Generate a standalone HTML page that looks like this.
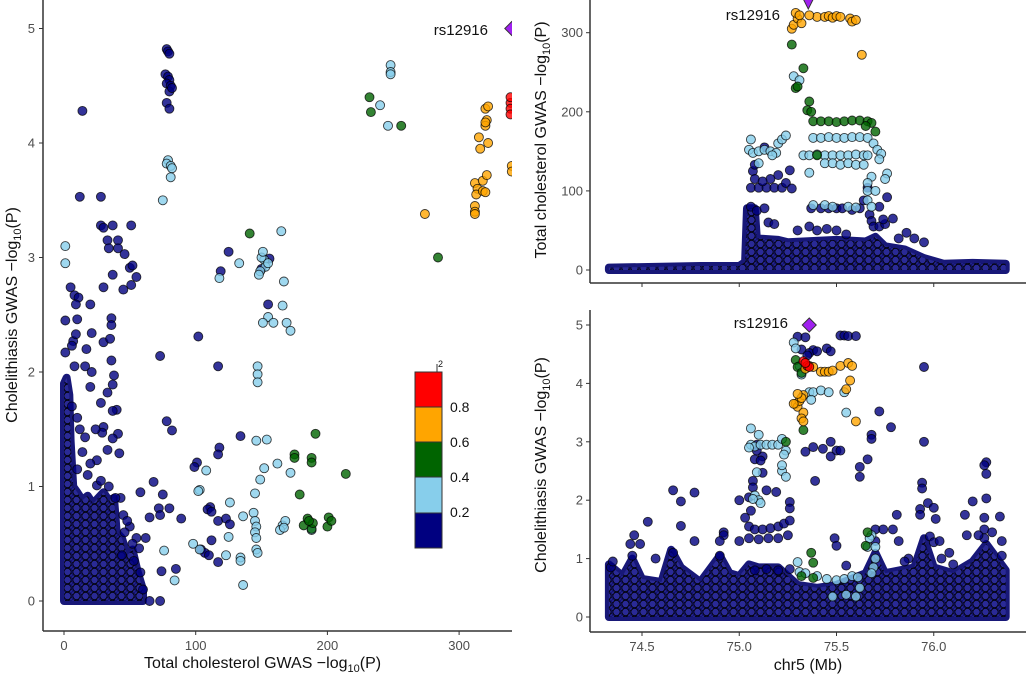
<!DOCTYPE html>
<html><head><meta charset="utf-8"><style>
html,body{margin:0;padding:0;background:#fff;}
svg{display:block;font-family:"Liberation Sans",sans-serif;}
.tk{fill:#4d4d4d;font-size:13px;}
.ttl{fill:#111;font-size:16px;}
</style></head><body>
<svg id="chart" width="1026" height="678" viewBox="0 0 1026 678">
<defs>
<clipPath id="cL"><rect x="44" y="0" width="468" height="630"/></clipPath>
<clipPath id="cT"><rect x="591" y="0" width="435" height="282"/></clipPath>
<clipPath id="cB"><rect x="591" y="300" width="435" height="331"/></clipPath>
<pattern id="dots" width="9" height="8" patternUnits="userSpaceOnUse">
<rect width="9" height="8" fill="#141470"/>
<circle cx="4.5" cy="4" r="3.6" fill="#2a2a96" stroke="#000" stroke-width="0.8"/>
<circle cx="0" cy="0" r="2.5" fill="#22228a" stroke="#000" stroke-width="0.6"/>
<circle cx="9" cy="8" r="2.5" fill="#22228a" stroke="#000" stroke-width="0.6"/>
</pattern>
</defs>
<g id="gL" clip-path="url(#cL)"></g>
<g id="gT" clip-path="url(#cT)"></g>
<g id="gB" clip-path="url(#cB)"></g>
<g id="axes"></g>
<g>
<rect x="415" y="372" width="27" height="35" fill="#ff0000" stroke="#333"/>
<rect x="415" y="407" width="27" height="35" fill="#ffa500" stroke="#333"/>
<rect x="415" y="442" width="27" height="35" fill="#006400" stroke="#333"/>
<rect x="415" y="477" width="27" height="36" fill="#87ceeb" stroke="#333"/>
<rect x="415" y="513" width="27" height="35" fill="#000080" stroke="#333"/>
<line x1="437" y1="372" x2="437" y2="364" stroke="#333"/>
<text x="438" y="367" font-size="9" fill="#111">2</text>
<text x="450" y="412" font-size="14" fill="#111">0.8</text>
<text x="450" y="447" font-size="14" fill="#111">0.6</text>
<text x="450" y="482" font-size="14" fill="#111">0.4</text>
<text x="450" y="517" font-size="14" fill="#111">0.2</text>
</g>
</svg>
<script>
const leftPoints=[
[78,4.82,0],[79,4.8,0],[80,4.78,0],[77,4.6,0],[79,4.58,0],[80,4.55,0],[78,4.52,0],[81,4.5,0],[80,4.45,0],[78,4.35,0],[80,4.3,0],[82,4.48,0],
[14,4.28,0],[12,3.53,0],[28,3.53,0],[28,3.28,0],[37,3.28,0],[33,3.15,0],[34,3.08,0],
[30,3.26,0],[51,3.28,0],[41,3.15,0],[41,3.08,0],[46,3.03,0],[37,2.85,0],[50,2.91,0],[52,2.93,0],[55,2.83,0],[51,2.76,0],[45,2.72,0],[30,2.74,0],[5,2.74,0],[8,2.67,0],[11,2.65,0],[9,2.59,0],[20,2.59,0],[1,2.45,0],[10,2.46,0],[36,2.47,0],[36,2.41,0],[21,2.34,0],[30,2.26,0],[35,2.29,0],[17,2.2,0],[7,2.27,0],[6,2.23,0],[9,2.33,0],[1,2.17,0],[8,2.05,0],[16,2.05,0],[21,2.0,0],[36,2.1,0],[38,1.97,0],[37,1.89,0],[20,1.87,0],[33,1.82,0],[28,1.73,0],[40,1.67,0],[37,1.66,0],[30,1.52,0],[29,1.47,0],[41,1.46,0],[37,1.42,0],[33,1.32,0],[42,1.29,0],[25,1.23,0],[16,1.43,0],[10,1.6,0],[12,1.5,0],[6,1.7,0],[14,1.3,0],[20,1.2,0],[24,1.5,0],
[125,3.05,0],[119,2.88,0],[155,2.59,0],[102,2.31,0],[73,2.14,0],[117,2.05,0],[78,1.57,0],[82,1.49,0],[134,1.44,0],[118,1.34,0],[117,1.28,0],[101,1.21,0],[99,1.17,0],[58,0.95,0],[68,1.04,0],[75,0.93,0],[80,0.81,0],[72,0.81,0],[73,0.75,0],[65,0.73,0],[89,0.72,0],[111,0.82,0],[109,0.8,0],[112,0.78,0],[117,0.7,0],[123,0.72,0],[126,0.67,0],[104,0.45,0],[107,0.42,0],[110,0.4,0],[117,0.34,0],[112,0.53,0],[85,0.28,0],[74,0.26,0],[60,0.1,0],[65,0,0],[73,0,0],[57,0.46,0],[55,0.55,0],[50,0.65,0],[45,0.75,0],[48,0.7,0],[53,0.35,0],[43,0.9,0],[39,0.9,0],[25,1.01,0],[150,2.9,0],[156,2.99,0],
[10,1.15,0],[18,1.1,0],[28,1.05,0],[34,1.0,0],[46,0.6,0],[52,0.5,0],[58,0.25,0],[44,0.4,0],[62,0.55,0],
[75,3.5,1],[79,3.85,1],[78,3.82,1],[81,3.8,1],[82,3.78,1],[81,3.7,1],[1,3.1,1],[1,2.95,1],
[152,2.98,1],[150,3.0,1],[153,2.92,1],[149,2.88,1],[151,3.05,1],[155,2.95,1],[148,2.85,1],[165,3.23,1],[133,2.95,1],[118,2.82,1],[167,2.79,1],[166,2.58,1],[155,2.48,1],[151,2.43,1],[159,2.43,1],[169,2.43,1],[172,2.36,1],[147,2.05,1],[147,1.98,1],[147,1.91,1],[146,1.4,1],[154,1.41,1],[162,1.2,1],[172,1.12,1],[152,1.16,1],[149,1.06,1],[108,1.14,1],[103,0.97,1],[136,0.74,1],[125,0.56,1],[102,0.96,1],[126,0.86,1],[145,0.94,1],[144,0.77,1],[145,0.7,1],[146,0.65,1],[145,0.6,1],[146,0.55,1],[146,0.45,1],[147,0.42,1],[136,0.14,1],[134,0.38,1],[134,0.35,1],[123,0.4,1],[103,0.45,1],[98,0.5,1],[84,0.18,1],[76,0.44,1],[166,0.66,1],[164,0.62,1],[168,0.7,1],[167,0.64,1],[188,0.62,1],
[240,4.33,1],[246,4.15,1],[248,4.68,1],[248,4.62,1],[248,4.6,1],
[232,4.4,2],[233,4.27,2],[256,4.15,2],[284,3.0,2],[141,3.21,2],[191,1.46,2],[175,1.28,2],[188,1.25,2],[188,1.21,2],[175,1.25,2],[214,1.11,2],[179,0.93,2],[182,0.66,2],[185,0.72,2],[188,0.63,2],[189,0.68,2],[186,0.7,2],[200,0.65,2],[201,0.73,2],[203,0.7,2],
[312,3.65,3],[314,3.6,3],[318,3.67,3],[313,3.55,3],[318,3.58,3],[320,3.57,3],[312,3.45,3],[312,3.4,3],[312,3.38,3],[315,4.05,3],[316,3.95,3],[322,4.0,3],[321,3.72,3],[320,4.3,3],[322,4.32,3],[321,4.2,3],[320,4.15,3],[320,4.18,3],[274,3.38,3],[340,3.8,3],[340,3.75,3],
[339,4.35,4],[339,4.3,4],[339,4.4,4],[339,4.25,4]
];
const leftEnvX=[0,0,2,4,5,7,10,14,18,22,26,30,34,38,40,44,48,52,56,60,60];
const leftEnvY=[0,1.9,1.95,1.8,1.4,1.0,0.95,0.88,0.92,0.85,0.9,0.95,0.88,0.9,0.6,0.55,0.4,0.45,0.25,0.1,0];
const leftLead=[340,5.0];
const leftXTicks=[0,100,200,300];
const leftYTicks=[0,1,2,3,4,5];

const topPoints=[
[75.27,305,3],[75.28,310,3],[75.3,318,3],[75.29,325,3],[75.32,312,3],[75.31,322,3],[75.4,320,3],[75.44,320,3],[75.46,321,3],[75.48,319,3],[75.5,321,3],[75.52,320,3],[75.57,318,3],[75.58,314,3],[75.6,316,3],[75.63,272,3],[75.36,322,3],
[75.27,285,2],[75.33,255,2],[75.29,230,2],[75.3,232,2],[75.36,213,2],[75.35,202,2],[75.37,200,2],[75.38,188,2],[75.42,188,2],[75.46,188,2],[75.5,187,2],[75.54,188,2],[75.58,189,2],[75.62,189,2],[75.66,188,2],[75.68,186,2],[75.65,182,2],[75.7,175,2],[75.4,145,2],
[75.28,245,1],[75.31,240,1],[75.06,165,1],[75.05,152,1],[75.07,148,1],[75.1,150,1],[75.13,152,1],[75.16,150,1],[75.19,148,1],[75.2,160,1],[75.22,165,1],[75.24,170,1],[75.1,135,1],[75.17,145,1],[75.33,145,1],[75.36,145,1],[75.4,146,1],[75.44,145,1],[75.48,145,1],[75.52,145,1],[75.56,145,1],[75.6,146,1],[75.64,145,1],[75.66,145,1],[75.38,167,1],[75.42,167,1],[75.46,168,1],[75.5,167,1],[75.54,167,1],[75.58,168,1],[75.62,168,1],[75.66,167,1],[75.44,135,1],[75.48,135,1],[75.52,133,1],[75.56,135,1],[75.6,133,1],[75.64,133,1],[75.36,123,1],[75.69,160,1],[75.71,152,1],[75.73,147,1],[75.72,140,1],[75.76,122,1],[75.75,115,1],[75.68,118,1],[75.66,110,1],[75.66,100,1],[75.7,100,1],[75.38,82,1],[75.44,82,1],[75.48,80,1],[75.56,80,1],[75.6,79,1],[75.66,88,1],[75.68,80,1],
[75.07,125,0],[75.08,115,0],[75.06,104,0],[75.1,104,0],[75.14,104,0],[75.18,104,0],[75.22,104,0],[75.24,110,0],[75.2,120,0],[75.16,115,0],[75.12,112,0],[75.26,126,0],[75.27,103,0],[75.13,155,0],[75.08,133,0],[75.37,78,0],[75.42,78,0],[75.46,78,0],[75.5,78,0],[75.53,78,0],[75.58,76,0],[75.62,78,0],[75.64,88,0],[75.67,70,0],[75.68,62,0],[75.69,55,0],[75.72,55,0],[75.75,58,0],[75.76,92,0],[75.74,64,0],[75.72,80,0],[75.79,65,0],[75.06,80,0],[75.09,75,0],[75.13,78,0],[75.15,60,0],[75.18,58,0],[75.3,50,0],[75.36,55,0],[75.4,50,0],[75.45,52,0],[75.5,50,0],[75.55,45,0],[75.86,47,0],[75.9,40,0],[75.95,35,0],[75.82,40,0],[75.66,104,0]
];
const topEnvX=[74.33,74.33,74.6,74.8,75.0,75.03,75.04,75.08,75.09,75.2,75.25,75.5,75.65,75.7,75.75,75.85,75.95,76.05,76.2,76.37,76.37];
const topEnvY=[0,3,4,5,5,10,78,78,40,38,35,38,36,42,30,26,15,8,9,8,0];
const topLead=[75.355,340];
const topYTicks=[0,100,200,300];
const mbTicks=[74.5,75.0,75.5,76.0];

const botPoints=[
[75.3,4.8,0],[75.34,4.79,0],[75.32,4.58,0],[75.38,4.57,0],[75.36,4.52,0],[75.4,4.55,0],[75.45,4.6,0],[75.47,4.55,0],[75.35,4.48,0],[75.52,4.82,0],[75.54,4.82,0],[75.56,4.81,0],[75.6,4.81,0],
[75.34,2.83,0],[75.38,2.91,0],[75.43,2.88,0],[75.47,3.0,0],[75.5,2.85,0],[75.52,2.85,0],[75.47,2.75,0],[75.39,2.33,0],[75.72,3.52,0],[75.68,3.12,0],[75.68,3.05,0],[75.78,3.25,0],[75.66,2.7,0],[75.62,2.57,0],[75.62,2.4,0],[75.95,4.28,0],[75.95,3.0,0],[75.94,2.3,0],[75.94,2.2,0],[75.93,1.85,0],[75.93,1.75,0],[75.97,1.95,0],[76.27,2.65,0],[76.27,2.45,0],[76.26,2.6,0],[76.27,2.03,0],[76.2,1.98,0],[76.16,1.75,0],[76.34,1.72,0],[76.0,1.87,0],[76.01,1.68,0],[75.81,1.75,0],[76.26,1.7,0],[76.26,1.5,0],[76.26,1.35,0],[76.23,1.4,0],
[74.66,2.17,0],[74.77,2.13,0],[74.7,1.98,0],[74.53,1.63,0],[74.7,1.56,0],[74.46,1.4,0],[74.77,1.3,0],[74.92,1.45,0],[74.92,1.4,0],[74.9,1.3,0],[75.0,2.0,0],[75.07,2.33,0],[75.07,2.22,0],[75.05,2.05,0],[75.06,1.82,0],[75.12,2.47,0],[75.14,2.17,0],[75.19,2.14,0],[75.26,1.97,0],[75.26,1.86,0],[75.08,2.7,0],[75.12,2.75,0],[75.09,2.95,0],[75.09,2.85,0],[75.11,2.68,0],
[75.05,1.55,0],[75.08,1.5,0],[75.12,1.5,0],[75.16,1.52,0],[75.2,1.55,0],[75.23,1.6,0],[75.26,1.65,0],[75.05,1.35,0],[75.1,1.33,0],[75.15,1.35,0],[75.2,1.35,0],[75.25,1.4,0],[75.0,1.3,0],[75.03,1.7,0],
[75.49,1.35,0],[75.5,1.22,0],[75.55,0.88,0],[75.7,1.5,0],[75.7,1.3,0],[75.74,1.5,0],[75.82,1.3,0],[75.79,1.5,0],[75.87,1.0,0],[75.85,0.95,0],[76.04,1.0,0],[76.08,1.1,0],[76.17,1.4,0],[76.3,1.45,0],[76.35,1.3,0],[76.35,1.05,0],[76.1,0.9,0],[75.98,1.38,0],[76.0,1.28,0],[76.03,1.3,0],[74.34,0.85,0],[74.35,0.95,0],[74.44,1.25,0],[74.49,1.25,0],[74.57,1.0,0],[74.45,1.05,0],[74.66,1.1,0],[74.9,1.05,0],[75.08,0.8,0],[75.14,0.82,0],[75.2,0.8,0],[75.26,0.82,0],
[75.33,4.38,4],[75.35,4.3,4],[75.36,4.28,4],[75.34,4.35,4],
[75.36,4.3,3],[75.38,4.28,3],[75.42,4.2,3],[75.44,4.2,3],[75.46,4.2,3],[75.48,4.22,3],[75.52,4.3,3],[75.56,4.35,3],[75.58,4.3,3],[75.57,4.05,3],[75.55,3.9,3],[75.29,3.65,3],[75.3,3.6,3],[75.31,3.7,3],[75.33,3.8,3],[75.32,3.75,3],[75.33,3.5,3],[75.32,3.4,3],[75.33,3.35,3],[75.28,3.65,3],[75.6,3.35,3],[75.34,4.25,3],[75.3,3.82,3],
[75.29,4.4,2],[75.3,4.28,2],[75.32,4.18,2],[75.33,3.2,2],[75.24,3.0,2],[75.37,1.1,2],[75.38,0.93,2],[75.32,0.7,2],[75.38,0.67,2],[75.66,1.45,2],[75.65,1.22,2],
[75.28,4.7,1],[75.29,4.6,1],[75.31,4.3,1],[75.32,4.15,1],[75.36,3.85,1],[75.38,3.85,1],[75.42,3.88,1],[75.46,3.85,1],[75.37,3.72,1],[75.54,3.85,1],[75.55,3.5,1],[75.06,3.23,1],[75.1,3.12,1],[75.06,2.95,1],[75.08,2.92,1],[75.11,2.95,1],[75.14,2.95,1],[75.17,2.95,1],[75.2,2.95,1],[75.22,3.05,1],[75.24,2.85,1],[75.23,2.78,1],[75.05,2.9,1],[75.09,2.48,1],[75.22,2.5,1],[75.24,2.4,1],[75.22,2.6,1],[75.08,2.08,1],[75.1,2.0,1],[75.11,1.95,1],[75.07,2.02,1],[75.3,0.94,1],[75.31,0.77,1],[75.34,0.75,1],[75.4,0.7,1],[75.45,0.65,1],[75.5,0.63,1],[75.54,0.65,1],[75.58,0.7,1],[75.61,0.68,1],[75.66,1.2,1],[75.68,1.4,1],[75.67,1.35,1],[75.7,1.2,1],[75.7,1.0,1],[75.69,0.85,1],[75.68,0.75,1],[75.6,0.35,1],[75.55,0.38,1],[75.48,0.35,1],[75.62,0.5,1]
];
const botEnvX=[74.33,74.33,74.4,74.45,74.5,74.6,74.65,74.7,74.8,74.9,74.95,75.0,75.05,75.1,75.2,75.3,75.4,75.5,75.65,75.7,75.75,75.9,75.95,76.0,76.1,76.2,76.27,76.37,76.37];
const botEnvY=[0,0.9,0.7,1.0,0.65,0.6,1.15,0.85,0.6,1.05,0.75,0.7,0.9,0.85,0.85,0.55,0.5,0.55,0.75,1.1,0.75,0.85,1.35,0.85,0.75,0.95,1.25,0.8,0];
const botLead=[75.36,5.0];
const botYTicks=[0,1,2,3,4,5];

const NS="http://www.w3.org/2000/svg";
const fills=["#000080","#87ceeb","#006400","#ffa500","#ff0000"];
const cnames=["r2-below-0.2","r2-0.2-0.4","r2-0.4-0.6","r2-0.6-0.8","r2-above-0.8"];
const xL=v=>64+v*1.317, yL=v=>601-v*114.5;
const xM=v=>642+(v-74.5)*194.5, yT=v=>270-v*0.791, yB=v=>617-v*58.4;

function mk(tag,attrs,parent){const e=document.createElementNS(NS,tag);for(const k in attrs)e.setAttribute(k,attrs[k]);parent.appendChild(e);return e;}

function drawEnv(g,ex,ey,fx,fy){
  const d=ex.map((x,i)=>(i?'L':'M')+fx(x).toFixed(1)+','+fy(ey[i]).toFixed(1)).join('')+'Z';
  const p=mk('path',{d:d,fill:'url(#dots)',stroke:'#181878','stroke-width':8,'stroke-linejoin':'round'},g);
  
  
  const p2=mk('path',{d:d,fill:'url(#dots)',stroke:'none'},g);
  
  
}
function drawPts(g,pts,fx,fy){
  for(const c of [0,1,2,3,4]){
    pts.filter(p=>p[2]===c).forEach(p=>{
      const e=mk('circle',{cx:fx(p[0]).toFixed(1),cy:fy(p[1]).toFixed(1),r:4.5,fill:fills[c],'fill-opacity':0.8,stroke:'#000','stroke-opacity':0.75,'stroke-width':0.9},g);
      
      
    });
  }
}
function lead(g,x,y,shape){
  let e;
  if(shape==='diamond') e=mk('path',{d:`M${x},${y-7}L${x+7},${y}L${x},${y+7}L${x-7},${y}Z`,fill:'#a020f0',stroke:'#333','stroke-width':1},g);
  else e=mk('path',{d:`M${x-8},${y-8}L${x+8},${y-8}L${x},${y+8}Z`,fill:'#a020f0',stroke:'#333','stroke-width':1},g);
  
  
}
const gL=document.getElementById('gL'),gT=document.getElementById('gT'),gB=document.getElementById('gB'),ax=document.getElementById('axes');
drawEnv(gL,leftEnvX,leftEnvY,xL,yL);drawPts(gL,leftPoints,xL,yL);lead(gL,xL(leftLead[0]),yL(leftLead[1]),'diamond');
drawEnv(gT,topEnvX,topEnvY,xM,yT);drawPts(gT,topPoints,xM,yT);lead(gT,xM(topLead[0]),yT(topLead[1]),'tri');
drawEnv(gB,botEnvX,botEnvY,xM,yB);drawPts(gB,botPoints,xM,yB);lead(gB,xM(botLead[0]),yB(botLead[1]),'diamond');

function txt(s,attrs,name){const t=mk('text',attrs,ax);t.textContent=s;return t;}
function line(x1,y1,x2,y2,name,w){const l=mk('line',{x1,y1,x2,y2,stroke:'#333','stroke-width':w||1},ax);}
line(43,0,43,631,'y-axis-line',1.5);line(43,631,512,631,'x-axis-line',1.5);
leftYTicks.forEach(v=>{line(39,yL(v),43,yL(v),'y-tick');txt(String(v),{x:35,y:yL(v)+4.5,'text-anchor':'end',class:'tk'},'y-tick-label');});
leftXTicks.forEach(v=>{line(xL(v),631,xL(v),635,'x-tick');txt(String(v),{x:xL(v),y:650,'text-anchor':'middle',class:'tk'},'x-tick-label');});
txt('',{x:144,y:668,class:'ttl'},'x-axis-title').innerHTML='Total cholesterol GWAS \u2212log<tspan font-size="11" dy="4">10</tspan><tspan dy="-4">(P)</tspan>';
txt('',{x:0,y:0,class:'ttl',transform:'translate(17,315) rotate(-90)','text-anchor':'middle'},'y-axis-title').innerHTML='Cholelithiasis GWAS \u2212log<tspan font-size="11" dy="4">10</tspan><tspan dy="-4">(P)</tspan>';
txt('rs12916',{x:488,y:35,'font-size':15,fill:'#111','text-anchor':'end'},'lead-snp-label');
line(590,0,590,283,'y-axis-line',1.5);line(590,283,1026,283,'x-axis-line',1.5);
topYTicks.forEach(v=>{line(586,yT(v),590,yT(v),'y-tick');txt(String(v),{x:583,y:yT(v)+4.5,'text-anchor':'end',class:'tk'},'y-tick-label');});
mbTicks.forEach(v=>line(xM(v),283,xM(v),287,'x-tick'));
txt('',{x:0,y:0,class:'ttl',transform:'translate(546,140) rotate(-90)','text-anchor':'middle'},'y-axis-title').innerHTML='Total cholesterol GWAS \u2212log<tspan font-size="11" dy="4">10</tspan><tspan dy="-4">(P)</tspan>';
txt('rs12916',{x:780,y:20,'font-size':15,fill:'#111','text-anchor':'end'},'lead-snp-label');
line(590,310,590,632,'y-axis-line',1.5);line(590,632,1026,632,'x-axis-line',1.5);
botYTicks.forEach(v=>{line(586,yB(v),590,yB(v),'y-tick');txt(String(v),{x:583,y:yB(v)+4.5,'text-anchor':'end',class:'tk'},'y-tick-label');});
mbTicks.forEach(v=>{line(xM(v),632,xM(v),636,'x-tick');txt(v.toFixed(1),{x:xM(v),y:651,'text-anchor':'middle',class:'tk'},'x-tick-label');});
txt('chr5 (Mb)',{x:808,y:670,'text-anchor':'middle',class:'ttl'},'x-axis-title');
txt('',{x:0,y:0,class:'ttl',transform:'translate(546,465) rotate(-90)','text-anchor':'middle'},'y-axis-title').innerHTML='Cholelithiasis GWAS \u2212log<tspan font-size="11" dy="4">10</tspan><tspan dy="-4">(P)</tspan>';
txt('rs12916',{x:788,y:328,'font-size':15,fill:'#111','text-anchor':'end'},'lead-snp-label');
</script>
</body></html>
